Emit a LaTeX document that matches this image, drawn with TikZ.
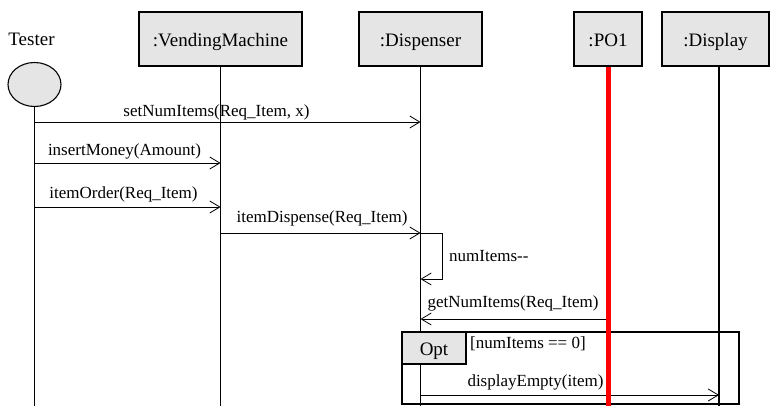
\documentclass[tikz,border=0pt]{standalone}
\usepackage{fontspec}
\setmainfont{Liberation Serif}
\usetikzlibrary{arrows.meta,shapes.geometric}
\definecolor{boxgray}{gray}{0.9}
\begin{document}
\begin{tikzpicture}[x=1pt,y=-1pt,
  big/.style={font=\fontsize{19}{22}\selectfont},
  small/.style={font=\fontsize{17}{20}\selectfont},
  obj/.style={draw, line width=1.4pt, fill=boxgray, minimum height=54pt,
    inner sep=0pt, text height=15pt, text depth=0pt, big},
  lifeline/.style={line width=1.1pt},
  msg/.style={line width=0.8pt,
    -{Straight Barb[length=10pt,width=12pt,line width=0.8pt]}},
  lbl/.style={inner sep=0pt, anchor=base, small},
  frame/.style={draw, line width=1.4pt},
]
\useasboundingbox (0,0) rectangle (770,406);

% actors and objects
\node[big, inner sep=0pt, anchor=base] (testerlbl) at (31.5,46) {Tester};
\node[draw, ellipse, fill=boxgray, line width=1.1pt, minimum width=53pt,
      minimum height=44pt, inner sep=0pt] (tester) at (34.5,84.5) {};
\node[obj, minimum width=163pt] (vm)   at (220.5,39) {:VendingMachine};
\node[obj, minimum width=123pt] (disp) at (420.5,39) {:Dispenser};
\node[obj, minimum width=68pt]  (po)   at (608,39)   {:PO1};
\node[obj, minimum width=107pt] (dsp)  at (715.5,39) {:Display};

% lifelines
\coordinate (testerEnd) at (34.5,406);
\coordinate (vmEnd)     at (220.5,406);
\coordinate (dispEnd)   at (420.5,406);
\coordinate (poEnd)     at (608,406);
\coordinate (dspEnd)    at (719,406);
\draw[lifeline] (tester.south) -- (testerEnd);
\draw[lifeline] (vm.south) -- (vmEnd);
\draw[lifeline] (disp.south) -- (dispEnd);
\draw[lifeline] (dspEnd |- dsp.south) -- (dspEnd);

% messages
\draw[msg] (testerEnd |- 0,122) -- (dispEnd |- 0,122);
\node[lbl] (l1) at (216.5,117) {setNumItems(Req\_Item, x)};

\draw[msg] (testerEnd |- 0,163) -- (vmEnd |- 0,163);
\node[lbl] (l2) at (124.5,156) {insertMoney(Amount)};

\draw[msg] (testerEnd |- 0,207) -- (vmEnd |- 0,207);
\node[lbl] (l3) at (123.5,198) {itemOrder(Req\_Item)};

\draw[msg] (vmEnd |- 0,233) -- (dispEnd |- 0,233);
\node[lbl] (l4) at (322,222) {itemDispense(Req\_Item)};

\draw[msg] (dispEnd |- 0,233) -- ++(22,0) -- ++(0,46) -- ++(-22,0);
\node[lbl, anchor=base west] (l5) at (449,261) {numItems{-}{-}};

\draw[msg] (poEnd |- 0,319) -- (dispEnd |- 0,319);
\node[lbl] (l6) at (513,307) {getNumItems(Req\_Item)};

% optional fragment
\node[frame, minimum width=337pt, minimum height=72pt, inner sep=0pt]
  (opt) at (570.5,368) {};
\node[frame, fill=boxgray, minimum width=64pt, minimum height=32pt,
      inner sep=0pt, text height=14pt, text depth=0pt, big, anchor=north west]
  (optlbl) at (opt.north west) {Opt};
\node[lbl, anchor=base west] (guard) at (470,348) {[numItems == 0]};

\draw[msg] (dispEnd |- 0,395) -- (dspEnd |- 0,395);
\node[lbl] (l7) at (535.5,386) {displayEmpty(item)};

% highlighted lifeline
\draw[red, line width=5pt] (po.south) -- (poEnd);
\end{tikzpicture}
\end{document}
